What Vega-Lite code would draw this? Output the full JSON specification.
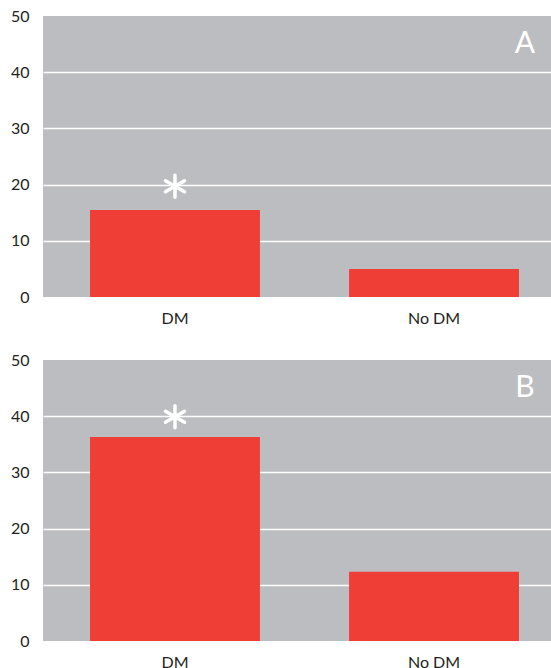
{
  "$schema": "https://vega.github.io/schema/vega-lite/v6.json",
  "padding": {"left": 10, "top": 8, "right": 0, "bottom": 0},
  "background": "white",
  "spacing": 26,
  "config": {
    "font": "Lato",
    "view": {"fill": "#bcbdc1", "stroke": null},
    "axis": {
      "domain": false,
      "ticks": false,
      "title": null,
      "labelFont": "Lato",
      "labelFontSize": 16,
      "labelColor": "#231f20"
    },
    "axisY": {
      "labelPadding": 14,
      "gridColor": "white",
      "gridWidth": 1.5
    },
    "axisX": {"labelPadding": 13, "labelAngle": 0, "grid": false}
  },
  "datasets": {
    "a": [
      {"group": "DM", "value": 15.5, "star": 19.7},
      {"group": "No DM", "value": 5.0, "star": null}
    ],
    "b": [
      {"group": "DM", "value": 36.3, "star": 39.9},
      {"group": "No DM", "value": 12.3, "star": null}
    ],
    "la": [{"group": "No DM", "label": "A", "y": 45}],
    "lb": [{"group": "No DM", "label": "B", "y": 45}]
  },
  "vconcat": [
    {
      "width": 508,
      "height": 281,
      "layer": [
        {
          "data": {"name": "a"},
          "mark": {"type": "bar", "color": "#ef3e36"},
          "encoding": {
            "x": {"field": "group", "type": "nominal", "sort": null,
                  "scale": {"paddingInner": 0.344, "paddingOuter": 0.1525, "align": 0.595}},
            "y": {"field": "value", "type": "quantitative",
                  "scale": {"domain": [0, 50]},
                  "axis": {"values": [0, 10, 20, 30, 40, 50], "gridOpacity": {"condition": {"test": "datum.value === 0 || datum.value === 50", "value": 0}, "value": 1}}}
          }
        },
        {
          "data": {"name": "a"},
          "transform": [{"filter": "datum.star != null"}],
          "mark": {"type": "point", "shape": "M0,-1L0,1M-0.866,-0.5L0.866,0.5M-0.866,0.5L0.866,-0.5", "stroke": "white", "strokeWidth": 3.5, "filled": false, "size": 484, "opacity": 1, "strokeCap": "round"},
          "encoding": {
            "x": {"field": "group", "type": "nominal", "sort": null},
            "y": {"field": "star", "type": "quantitative"}
          }
        },
        {
          "data": {"name": "la"},
          "mark": {"type": "text", "color": "white", "fontSize": 30, "font": "Lato", "baseline": "middle", "align": "center", "dx": 6},
          "encoding": {
            "x": {"field": "group", "type": "nominal", "sort": null, "bandPosition": 1},
            "y": {"field": "y", "type": "quantitative"},
            "text": {"field": "label"}
          }
        }
      ]
    },
    {
      "width": 508,
      "height": 281,
      "layer": [
        {
          "data": {"name": "b"},
          "mark": {"type": "bar", "color": "#ef3e36"},
          "encoding": {
            "x": {"field": "group", "type": "nominal", "sort": null,
                  "scale": {"paddingInner": 0.344, "paddingOuter": 0.1525, "align": 0.595}},
            "y": {"field": "value", "type": "quantitative",
                  "scale": {"domain": [0, 50]},
                  "axis": {"values": [0, 10, 20, 30, 40, 50], "gridOpacity": {"condition": {"test": "datum.value === 0 || datum.value === 50", "value": 0}, "value": 1}}}
          }
        },
        {
          "data": {"name": "b"},
          "transform": [{"filter": "datum.star != null"}],
          "mark": {"type": "point", "shape": "M0,-1L0,1M-0.866,-0.5L0.866,0.5M-0.866,0.5L0.866,-0.5", "stroke": "white", "strokeWidth": 3.5, "filled": false, "size": 484, "opacity": 1, "strokeCap": "round"},
          "encoding": {
            "x": {"field": "group", "type": "nominal", "sort": null},
            "y": {"field": "star", "type": "quantitative"}
          }
        },
        {
          "data": {"name": "lb"},
          "mark": {"type": "text", "color": "white", "fontSize": 30, "font": "Lato", "baseline": "middle", "align": "center", "dx": 6},
          "encoding": {
            "x": {"field": "group", "type": "nominal", "sort": null, "bandPosition": 1},
            "y": {"field": "y", "type": "quantitative"},
            "text": {"field": "label"}
          }
        }
      ]
    }
  ]
}
